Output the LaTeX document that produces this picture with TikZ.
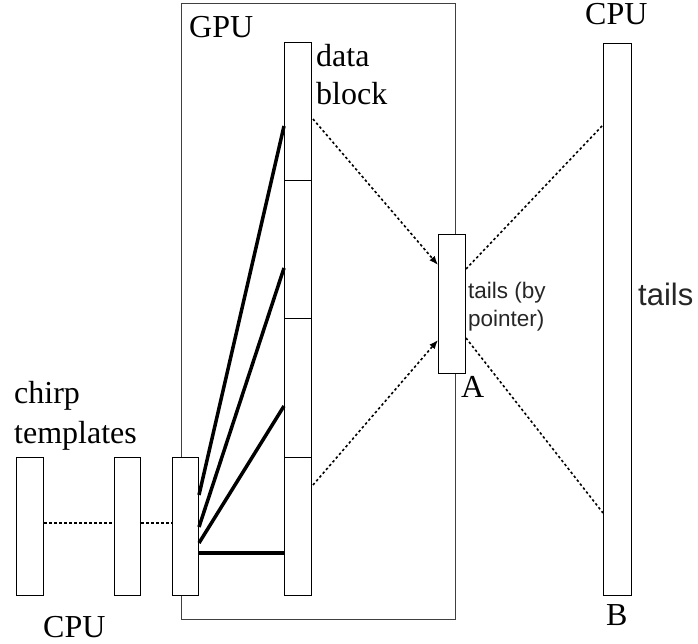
\documentclass[tikz,border=0pt]{standalone}
\usepackage{fontspec}
\setmainfont{Liberation Serif}
\newfontfamily\sansf{Liberation Sans}
\usetikzlibrary{arrows.meta,calc}
\tikzset{
  bar/.style={draw=black, fill=white, line width=1pt, inner sep=0pt, minimum width=27pt, anchor=north west},
  thickln/.style={line width=3.5pt},
  dotln/.style={line width=1.6pt, dash pattern=on 2.5pt off 2.5pt},
  dotarr/.style={dotln, -{Latex[length=9pt,width=7pt]}},
  serif/.style={font=\fontsize{32}{38}\selectfont, inner sep=0pt, anchor=base west},
  sanss/.style={font=\sansf\fontsize{22.5}{28}\selectfont, inner sep=0pt, anchor=base west, text=black!85},
  sansb/.style={font=\sansf\fontsize{31}{36}\selectfont, inner sep=0pt, anchor=base west, text=black!85},
}
\begin{document}
\begin{tikzpicture}[x=1pt,y=-1pt]
\useasboundingbox (0,0) rectangle (698,644);
% GPU frame
\node[draw=black!75, line width=1pt, inner sep=0pt, minimum width=274pt, minimum height=616pt, anchor=north west] (gpu) at (181,3) {};
% data block segments
\node[bar, minimum height=138pt] (d1) at (284,42) {};
\node[bar, minimum height=138pt] (d2) at (284,180) {};
\node[bar, minimum height=139pt] (d3) at (284,318) {};
\node[bar, minimum height=138pt] (d4) at (284,457) {};
% chirp template bars
\node[bar, minimum height=138pt] (c1) at (16,457) {};
\node[bar, minimum height=138pt, minimum width=26pt] (c2) at (114,457) {};
\node[bar, minimum height=138pt, minimum width=26pt] (c3) at (172,457) {};
% tails A and B
\node[bar, minimum height=139pt] (A) at (438,234) {};
\node[bar, minimum height=552pt, minimum width=28pt] (B) at (603,43) {};
% dashed links between chirp bars
\draw[dotln] ($(c1.north east)+(0,66)$) -- ($(c2.north west)+(0,66)$);
\draw[dotln] ($(c2.north east)+(0,66)$) -- ($(c3.north west)+(0,66)$);
% thick lines to data block
\draw[thickln] ($(c3.north east)+(0,38)$) -- ($(d1.north west)+(0,84)$);
\draw[thickln] ($(c3.north east)+(0,70)$) -- ($(d2.north west)+(0,88)$);
\draw[thickln] ($(c3.north east)+(0,86)$) -- ($(d3.north west)+(0,88)$);
\draw[thickln] ($(c3.north east)+(0,96)$) -- ($(d4.north west)+(0,96)$);
% dotted arrows to A
\draw[dotarr] ($(d1.north east)+(1,77)$) -- ($(A.north west)+(0,31)$);
\draw[dotarr] ($(d4.north east)+(1,28)$) -- ($(A.north west)+(0,106)$);
% dotted lines A to B
\draw[dotln] ($(A.north east)+(0,35)$) -- ($(B.north west)+(0,82)$);
\draw[dotln] ($(A.north east)+(0,104)$) -- ($(B.north west)+(0,470)$);
% labels
\node[serif] (tgpu) at (189,38) {GPU};
\node[serif] (tdata) at (316,67) {data};
\node[serif] (tblock) at (316,105) {block};
\node[serif] (tchirp) at (14,403) {chirp};
\node[serif] (ttempl) at (14,443) {templates};
\node[serif] (tcpu1) at (43,637) {CPU};
\node[serif] (tA) at (461,397) {A};
\node[serif] (tB) at (606,625) {B};
\node[serif] (tcpu2) at (585,25) {CPU};
\node[sanss] (ttails1) at (468,298) {tails (by};
\node[sanss] (ttails2) at (468,326) {pointer)};
\node[sansb] (ttails) at (638,305) {tails};
\end{tikzpicture}
\end{document}
